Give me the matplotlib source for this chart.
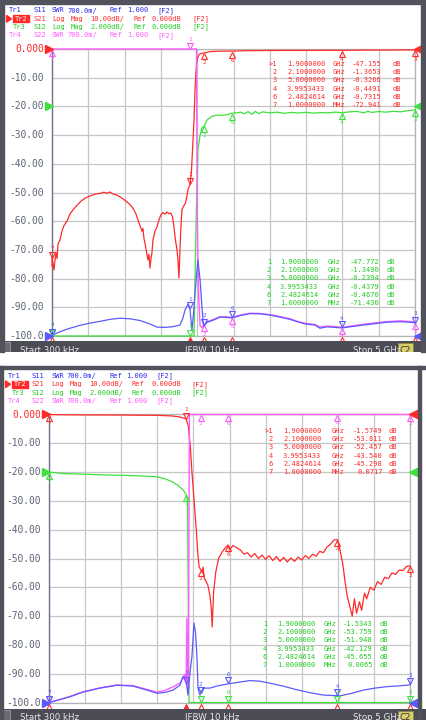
import numpy as np
import matplotlib
matplotlib.use("Agg")
import matplotlib.pyplot as plt
from matplotlib.patches import Rectangle, Polygon
from matplotlib.transforms import offset_copy

# ------------------------------------------------------------------ data
marker_ids = ["1", "2", "3", "4", "6", "7"]
marker_freqs = [1.9, 2.1, 5.0, 3.9953433, 2.4824614, 0.001]          # GHz
marker_freq_text = ["1.9000000", "2.1000000", "5.0000000", "3.9953433", "2.4824614", "1.0000000"]
marker_unit_text = ["GHz", "GHz", "GHz", "GHz", "GHz", "MHz"]

top_s21_read = ["-47.155", "-1.3653", "-0.3266", "-0.4491", "-0.7315", "-72.941"]
top_s12_read = ["-47.772", "-1.3490", "-0.2394", "-0.4379", "-0.4670", "-71.430"]
bot_s21_read = ["-1.5749", "-53.811", "-52.457", "-43.540", "-45.298", "0.0717"]
bot_s12_read = ["-1.5343", "-53.759", "-51.948", "-42.129", "-45.655", "0.0065"]

# top panel (high-pass)
top_s21_f = [0.0003, 0.001, 0.028, 0.04, 0.055, 0.07, 0.083, 0.11, 0.138, 0.165, 0.207, 0.248, 0.29, 0.344, 0.40,
             0.468, 0.523, 0.592, 0.661, 0.716, 0.758, 0.80, 0.84, 0.895, 0.937, 0.978, 1.033, 1.074, 1.116, 1.157,
             1.185, 1.212, 1.24, 1.253, 1.267, 1.281, 1.30, 1.322, 1.336, 1.35, 1.364, 1.377, 1.391, 1.419, 1.446,
             1.474, 1.50, 1.529, 1.556, 1.584, 1.611, 1.639, 1.66, 1.68, 1.70, 1.722, 1.735, 1.749, 1.763, 1.772,
             1.79, 1.818, 1.839, 1.86, 1.873, 1.90, 1.92, 1.94, 1.956, 1.97, 1.983, 1.997, 2.025, 2.045, 2.10,
             2.176, 2.314, 2.48, 2.66, 2.865, 3.14, 3.416, 3.69, 3.995, 4.24, 4.52, 4.79, 5.0]
top_s21_db = [-75.5, -72.9, -77, -74, -71, -73, -68, -66.5, -63.5, -61.5, -60, -57.5, -56, -54.5, -53,
              -51.8, -51.2, -50.6, -50.3, -49.9, -50.3, -49.8, -50.5, -50.9, -51.5, -52.2, -53.3, -54.2, -55.5, -57.5,
              -59.6, -61.5, -63.5, -62.5, -66, -67.6, -70.5, -73.5, -71.5, -76.3, -73, -71, -66.5, -63.5, -62,
              -59.5, -57.8, -57, -57.5, -56.8, -57.4, -57.2, -58.5, -62, -66.5, -70, -73.5, -79.8, -70, -64,
              -56, -54.5, -53.7, -51, -49, -47.2, -43, -33, -25, -14.3, -8, -3.8, -2.0, -1.6, -1.37,
              -0.9, -0.75, -0.73, -0.6, -0.55, -0.5, -0.5, -0.47, -0.45, -0.4, -0.38, -0.35, -0.33]

top_s12_f = [0.0003, 0.5, 1.0, 1.35, 1.5, 1.75, 1.9, 1.94, 1.956, 1.97, 1.99, 2.0, 2.01, 2.04, 2.066, 2.10, 2.135,
             2.20, 2.27, 2.34, 2.41, 2.48, 2.55, 2.60, 2.65, 2.70, 2.75, 2.80, 2.85, 2.90, 3.0, 3.1, 3.2, 3.3, 3.4,
             3.5, 3.6, 3.7, 3.8, 3.9, 3.995, 4.1, 4.2, 4.3, 4.35, 4.4, 4.5, 4.6, 4.7, 4.8, 4.9, 5.0]
top_s12_db = [-71.4, -51, -52, -76, -58, -80, -47.8, -30, -16, -12, -7, -5.8, -3.0, -2.0, -1.5, -1.35, -0.95,
              -0.7, -0.6, -0.62, -0.58, -0.47, -0.45, -0.40, -0.52, -0.36, -0.55, -0.35, -0.50, -0.38, -0.45, -0.40,
              -0.48, -0.42, -0.46, -0.41, -0.47, -0.43, -0.45, -0.40, -0.44, -0.38, -0.35, -0.45, -0.33, -0.42,
              -0.36, -0.40, -0.34, -0.38, -0.30, -0.24]

top_s11_f = [0.0003, 0.11, 0.25, 0.386, 0.523, 0.661, 0.80, 0.937, 1.074, 1.212, 1.35, 1.446, 1.556, 1.653, 1.763,
             1.80, 1.832, 1.873, 1.90, 1.928, 1.95, 1.97, 2.01, 2.04, 2.066, 2.087, 2.107, 2.135, 2.218, 2.314,
             2.397, 2.48, 2.59, 2.727, 2.865, 3.003, 3.14, 3.278, 3.375, 3.485, 3.623, 3.69, 3.788, 3.898, 3.995,
             4.105, 4.284, 4.449, 4.614, 4.793, 4.972, 5.0]
top_s11_swr = [1.014, 1.105, 1.19, 1.26, 1.315, 1.357, 1.406, 1.434, 1.42, 1.378, 1.294, 1.217, 1.21, 1.224, 1.266,
               1.42, 1.63, 1.77, 1.665, 1.14, 1.56, 2.05, 2.855, 2.365, 1.70, 1.217, 1.28, 1.33, 1.385, 1.46,
               1.455, 1.44, 1.497, 1.546, 1.54, 1.51, 1.46, 1.406, 1.35, 1.294, 1.266, 1.19, 1.224, 1.21, 1.196,
               1.224, 1.266, 1.30, 1.336, 1.35, 1.33, 1.315]

top_s22_f = [0.0003, 1.975, 1.99, 2.0, 2.02, 2.04, 2.07, 2.10, 2.135, 2.218, 2.314, 2.397, 2.48, 2.59, 2.727, 2.865,
             3.003, 3.14, 3.278, 3.375, 3.485, 3.623, 3.69, 3.788, 3.898, 3.995, 4.105, 4.284, 4.449, 4.614, 4.793,
             4.972, 5.0]
top_s22_swr = [20, 20, 8.5, 4.0, 2.0, 1.25, 1.2, 1.27, 1.35, 1.40, 1.47, 1.47, 1.45, 1.51, 1.555, 1.55,
               1.52, 1.475, 1.42, 1.36, 1.31, 1.28, 1.22, 1.24, 1.23, 1.21, 1.24, 1.285, 1.32, 1.35, 1.37,
               1.35, 1.33]

# bottom panel (low-pass)
bot_s21_f = [0.0003, 0.2, 0.5, 1.0, 1.3, 1.5, 1.7, 1.8, 1.86, 1.9, 1.93, 1.96, 1.98, 2.01, 2.04, 2.06, 2.08, 2.10,
             2.12, 2.135, 2.15, 2.20, 2.23, 2.25, 2.26, 2.28, 2.31, 2.35, 2.40, 2.45, 2.48, 2.50, 2.55, 2.60, 2.65,
             2.70, 2.75, 2.80, 2.85, 2.90, 2.95, 3.0, 3.05, 3.10, 3.15, 3.20, 3.25, 3.30, 3.35, 3.40, 3.45, 3.50,
             3.55, 3.60, 3.65, 3.70, 3.75, 3.80, 3.85, 3.90, 3.95, 3.995, 4.03, 4.07, 4.10, 4.13, 4.17, 4.20, 4.23,
             4.26, 4.30, 4.33, 4.37, 4.40, 4.45, 4.50, 4.55, 4.60, 4.65, 4.70, 4.75, 4.80, 4.85, 4.90, 4.95, 5.0]
bot_s21_db = [0.07, -0.1, -0.15, -0.2, -0.25, -0.3, -0.5, -0.8, -1.2, -1.57, -4, -12, -20, -30, -40, -48, -53, -53.8,
              -54.7, -53, -56.8, -59.2, -63, -68, -73.8, -61.6, -54.7, -49.9, -47.7, -46, -45.3, -47, -45.5, -46.3,
              -47, -48.5, -48, -49.5, -48.3, -50, -48.8, -50.3, -49, -50.7, -49.3, -51, -49.6, -51.2, -49.8, -51,
              -49.5, -50.5, -49, -50, -48.5, -49.2, -47.5, -48, -46, -45, -43.5, -43.5, -47, -52, -58, -63, -67,
              -70, -64, -69, -65, -68, -62, -64, -60, -61, -58, -59, -56.5, -57, -55, -55.5, -54, -54.2, -52.8, -52.5]

bot_s12_f = [0.0003, 0.2, 0.5, 0.8, 1.0, 1.2, 1.4, 1.5, 1.6, 1.7, 1.78, 1.85, 1.9, 1.92, 1.925, 1.94, 2.0, 2.5, 5.0]
bot_s12_db = [0.0065, -0.1, -0.15, -0.2, -0.22, -0.25, -0.3, -0.33, -0.45, -0.65, -0.9, -1.2, -1.53, -2.1, -6.4,
              -16.5, -30, -45, -52]

bot_s11_f = [0.0003, 0.152, 0.29, 0.47, 0.706, 0.942, 1.163, 1.33, 1.496, 1.607, 1.717, 1.814, 1.856, 1.884, 1.911,
             1.925, 1.953, 1.98, 2.008, 2.03, 2.05, 2.064, 2.091, 2.133, 2.23, 2.34, 2.465, 2.645, 2.784, 2.922,
             3.06, 3.24, 3.435, 3.615, 3.795, 4.03, 4.197, 4.349, 4.515, 4.681, 4.861, 5.0]
bot_s11_swr = [1.0, 1.07, 1.14, 1.252, 1.35, 1.42, 1.40, 1.315, 1.224, 1.245, 1.30, 1.42, 1.63, 1.595, 1.378,
               1.18, 1.72, 2.12, 2.93, 2.68, 2.085, 1.35, 1.18, 1.35, 1.35, 1.406, 1.448, 1.497, 1.532, 1.518,
               1.469, 1.40, 1.308, 1.238, 1.182, 1.161, 1.224, 1.30, 1.35, 1.385, 1.406, 1.427]

bot_s22_f = [0.0003, 0.29, 0.47, 0.706, 0.942, 1.163, 1.33, 1.496, 1.60, 1.717, 1.814, 1.856, 1.884, 1.90, 1.91,
             1.92, 1.93, 1.945, 5.0]
bot_s22_swr = [1.0, 1.145, 1.26, 1.355, 1.425, 1.41, 1.33, 1.25, 1.29, 1.38, 1.47, 1.60, 1.68, 1.5, 3.05,
               1.6, 1.3, 20, 20]

y_tick_labels = ["0.000", "-10.00", "-20.00", "-30.00", "-40.00", "-50.00", "-60.00", "-70.00", "-80.00",
                 "-90.00", "-100.0"]
header_lines = [
    ["Tr1", "S11", "SWR", "700.0m/", "Ref", "1.000", "[F2]"],
    ["Tr2", "S21", "Log", "Mag", "10.00dB/", "Ref", "0.000dB", "[F2]"],
    ["Tr3", "S12", "Log", "Mag", "2.000dB/", "Ref", "0.000dB", "[F2]"],
    ["Tr4", "S22", "SWR", "700.0m/", "Ref", "1.000", "[F2]"],
]
status_texts = ["Start 300 kHz", "IFBW 10 kHz", "Stop 5 GHz"]

# ------------------------------------------------------------------ style
W, H, DPI = 426, 720, 100
MONO = "DejaVu Sans Mono"
RED = "#ff2a2a"
GREEN = "#3ee03e"
BLUE = "#5a5aff"
MAG = "#ff5cff"
HBLUE = "#2a2aee"
HGREEN = "#22cc22"
LABEL = "#5d6575"
FRAME = "#52525c"
HFS = 5.0     # header font size
TFS = 5.0     # marker table font size
MFS = 4.3     # marker number font size

fig = plt.figure(figsize=(W / DPI, H / DPI), dpi=DPI, facecolor="white")


def px_axes(x0, y0, x1, y1, **kw):
    return fig.add_axes([x0 / W, 1 - y1 / H, (x1 - x0) / W, (y1 - y0) / H], **kw)


ov = fig.add_axes([0, 0, 1, 1], zorder=20)
ov.set_xlim(0, W)
ov.set_ylim(H, 0)
ov.axis("off")
ov.patch.set_alpha(0)


def disp_db(v, scale, refpos):
    return refpos + np.asarray(v, float) / scale * 10.0


def disp_swr(s, scale=0.7, refval=1.0, refpos=-100.0):
    return refpos + (np.asarray(s, float) - refval) / scale * 10.0


def clipd(d):
    return np.clip(d, -100, 0)


def marker(ax, f, d, num, color, side, filled=False):
    d = float(np.clip(d, -100, 0))
    if side == "above":
        sym, tdy, ndy = "v", 3.5, 9.5
    else:
        sym, tdy, ndy = "^", -3.5, -9.5
    tr = offset_copy(ax.transData, fig=fig, x=0, y=tdy, units="dots")
    ax.plot([f], [d], marker=sym, ms=4.2, mfc=color if filled else "none", mec=color, mew=0.8,
            transform=tr, clip_on=False, zorder=8, linestyle="none")
    trn = offset_copy(ax.transData, fig=fig, x=0, y=ndy, units="dots")
    ax.text(f, d, num, transform=trn, fontsize=MFS, color=color, ha="center", va="center",
            family=MONO, clip_on=False, zorder=8)


def edge_tri(ax, side, d, color):
    if side == "left":
        tr = offset_copy(ax.transData, fig=fig, x=-3, y=0, units="dots")
        ax.plot([0.0003], [d], marker=">", ms=5.5, color=color, transform=tr, clip_on=False, zorder=9)
    else:
        tr = offset_copy(ax.transData, fig=fig, x=3, y=0, units="dots")
        ax.plot([5.0], [d], marker="<", ms=5.5, color=color, transform=tr, clip_on=False, zorder=9)


def header(y_rows, dx=0):
    xs_swr = [9, 33, 52, 67, 110, 127, 157]
    xs_log = [13, 33, 52, 71, 90, 133, 152, 192]
    colors = [HBLUE, RED, HGREEN, MAG]
    for i, toks in enumerate(header_lines):
        xs = xs_swr if len(toks) == 7 else xs_log
        y = y_rows[i]
        for j, (t, x) in enumerate(zip(toks, xs)):
            if i == 1 and j == 0:
                ov.add_patch(Rectangle((12.5 + dx, y - 3.4), 16, 7.0, color=RED, zorder=1))
                ov.add_patch(Polygon([(6.5 + dx, y - 3.4), (11.5 + dx, y), (6.5 + dx, y + 3.4)], color=RED))
                ov.text(x + dx + 1.5, y, t, color="white", fontsize=HFS, family=MONO, va="center", ha="left",
                        zorder=2)
            else:
                ov.text(x + dx, y, t, color=colors[i], fontsize=HFS, family=MONO, va="center", ha="left")


def table(rows_y, x_num, x_freq, x_unit, x_val, x_db, values, color, active):
    for i, y in enumerate(rows_y):
        num = (">" + marker_ids[i]) if (active and i == 0) else marker_ids[i]
        ov.text(x_num, y, num, color=color, fontsize=TFS, family=MONO, va="center", ha="right")
        ov.text(x_freq, y, marker_freq_text[i], color=color, fontsize=TFS, family=MONO, va="center", ha="left")
        ov.text(x_unit, y, marker_unit_text[i], color=color, fontsize=TFS, family=MONO, va="center", ha="left")
        ov.text(x_val, y, values[i], color=color, fontsize=TFS, family=MONO, va="center", ha="right")
        ov.text(x_db, y, "dB", color=color, fontsize=TFS, family=MONO, va="center", ha="left")


def status_bar(y0, y1, ty):
    bx = px_axes(0, y0, W, y1, zorder=15)
    bx.set_xlim(0, W)
    bx.set_ylim(y1, y0)
    bx.set_facecolor("#4c4c56")
    for s in bx.spines.values():
        s.set_visible(False)
    bx.set_xticks([])
    bx.set_yticks([])
    bx.add_patch(Rectangle((3, y0 + 1), 7, 12, facecolor="#6a6a74", edgecolor="#9a9aa4", lw=0.6))
    xs = [20, 185, 353]
    for t, x in zip(status_texts, xs):
        bx.text(x, ty, t, color="#e8e8e8", fontsize=6.2, va="top", ha="left", clip_on=True)
    bx.add_patch(Rectangle((398, y0 + 1.5), 15, 12, facecolor="#d8cf6a", edgecolor="#8a8440", lw=0.6))
    bx.text(400, ty, "C2", color="#303030", fontsize=6.2, va="top", ha="left", clip_on=True)


def panel(box, s21f, s21, s12f, s12, s11f, s11, s22f, s22, read21, read12, sides, label_x):
    x0, y0, x1, y1 = box
    ax = px_axes(x0, y0, x1, y1, zorder=5)
    ax.set_xlim(0.0003, 5.0)
    ax.set_ylim(-100, 0)
    ax.set_facecolor("white")
    ax.set_xticks(np.linspace(0.0003, 5.0, 11))
    ax.set_yticks(np.arange(-100, 1, 10))
    ax.set_xticklabels([])
    ax.set_yticklabels([])
    ax.tick_params(length=0)
    ax.grid(True, color="#c6c6c6", lw=0.9)
    ax.set_axisbelow(True)
    for k, s in ax.spines.items():
        s.set_color("#b4b4b4")
        s.set_linewidth(0.9)
    ax.spines["left"].set_color("#70708a")
    ax.spines["left"].set_linewidth(1.0)

    d12 = clipd(disp_db(s12, 2.0, -20))
    d21 = clipd(disp_db(s21, 10.0, 0))
    d22 = clipd(disp_swr(s22))
    d11 = clipd(disp_swr(s11))
    ax.plot(s12f, d12, color=GREEN, lw=0.9, clip_on=False, zorder=3)
    ax.plot(s21f, d21, color=RED, lw=0.9, clip_on=False, zorder=3.2)
    ax.plot(s22f, d22, color=MAG, lw=1.0, clip_on=False, zorder=3.4)
    ax.plot(s11f, d11, color=BLUE, lw=0.9, clip_on=False, zorder=3.6)

    # trace markers
    v21 = [float(v) for v in read21]
    v12 = [float(v) for v in read12]
    for i, f in enumerate(marker_freqs):
        m = marker_ids[i]
        marker(ax, f, disp_db(v21[i], 10.0, 0), m, RED, sides["s21"][i])
        marker(ax, f, disp_db(v12[i], 2.0, -20), m, GREEN, sides["s12"][i])
        marker(ax, f, disp_swr(np.interp(f, s22f, s22)), m, MAG, sides["s22"][i])
        marker(ax, f, disp_swr(np.interp(f, s11f, s11)), m, BLUE, "above")
        # stimulus markers under the grid
        tr = offset_copy(ax.transData, fig=fig, x=0, y=-5, units="dots")
        ax.plot([f], [-100], marker="^", ms=6, mfc=RED if i == 0 else "none", mec=RED, mew=0.8,
                transform=tr, clip_on=False, zorder=9)

    for side in ("left", "right"):
        edge_tri(ax, side, 0, RED)
        edge_tri(ax, side, -20, GREEN)
        edge_tri(ax, side, -100, BLUE)

    for i, lab in enumerate(y_tick_labels):
        y = y0 + i * (y1 - y0) / 10.0
        ov.text(label_x, y, lab, color=RED if i == 0 else LABEL, fontsize=6.9, family=MONO,
                ha="right", va="center")
    return ax


# ------------------------------------------------------------------ frames
ov.add_patch(Rectangle((0, 0), W, 3.5, color=FRAME))
ov.add_patch(Rectangle((0, 0), 3.5, 352, color=FRAME))
ov.add_patch(Rectangle((421, 0), 5, 352, color=FRAME))
ov.add_patch(Rectangle((0, 366), W, 3, color=FRAME))
ov.add_patch(Rectangle((0, 366), 2.5, 354, color=FRAME))
ov.add_patch(Rectangle((418, 366), 2.5, 354, color=FRAME))

# ------------------------------------------------------------------ panels
top_sides = {
    "s21": ["above", "below", "below", "below", "below", "above"],
    "s12": ["above", "below", "below", "below", "below", "above"],
    "s22": ["above", "below", "below", "below", "below", "below"],
}
bot_sides = {
    "s21": ["above", "below", "below", "below", "below", "below"],
    "s12": ["below", "above", "above", "above", "above", "below"],
    "s22": ["above", "below", "below", "below", "below", "above"],
}

header([10.5, 18.8, 27.1, 35.4])
panel((52, 49, 415, 336), top_s21_f, top_s21_db, top_s12_f, top_s12_db, top_s11_f, top_s11_swr,
      top_s22_f, top_s22_swr, top_s21_read, top_s12_read, top_sides, 44)
table([64, 72.2, 80.4, 88.6, 96.8, 105], 277, 287, 333, 382, 393, top_s21_read, RED, True)
table([262, 270.2, 278.4, 286.6, 294.8, 303], 271, 280, 328, 380, 387, top_s12_read, HGREEN, False)
status_bar(341, 352, 345.5)

header([376, 384.3, 392.6, 400.9], dx=-1)
panel((49, 414.5, 410, 702.5), bot_s21_f, bot_s21_db, bot_s12_f, bot_s12_db, bot_s11_f, bot_s11_swr,
      bot_s22_f, bot_s22_swr, bot_s21_read, bot_s12_read, bot_sides, 41)
table([431, 439.2, 447.4, 455.6, 463.8, 472], 273, 283, 332, 383, 389, bot_s21_read, RED, True)
table([624, 632.2, 640.4, 648.6, 656.8, 665], 267, 277, 324, 373, 380, bot_s12_read, HGREEN, False)
status_bar(709, 720, 712.5)

fig.savefig("out.png", dpi=DPI, facecolor="white")
